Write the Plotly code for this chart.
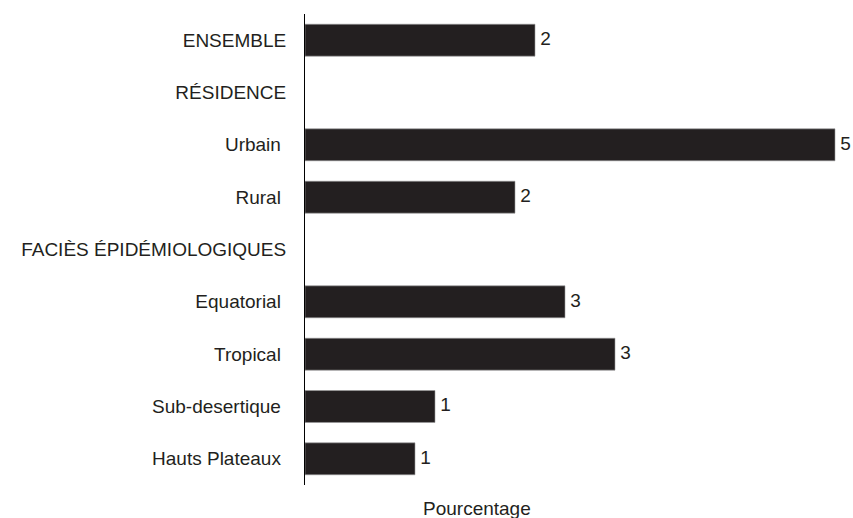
import plotly.graph_objects as go

categories = ["ENSEMBLE", "RÉSIDENCE", "Urbain", "Rural", "FACIÈS ÉPIDÉMIOLOGIQUES",
              "Equatorial", "Tropical", "Sub-desertique", "Hauts Plateaux"]
values = [2.3, None, 5.3, 2.1, None, 2.6, 3.1, 1.3, 1.1]
tick_labels = ["ENSEMBLE", "RÉSIDENCE", "Urbain\u00a0", "Rural\u00a0", "FACIÈS ÉPIDÉMIOLOGIQUES",
               "Equatorial\u00a0", "Tropical\u00a0", "Sub-desertique\u00a0", "Hauts Plateaux\u00a0"]

font_family = "Arial, 'Liberation Sans', sans-serif"

fig = go.Figure()
fig.add_trace(go.Bar(x=values, y=categories, orientation="h", width=0.61,
                     marker=dict(color="#231f20", line=dict(color="#9a9a9a", width=0.6)),
                     hoverinfo="skip"))
# value labels (rounded) as a text trace so they are never squeezed into the bar
fig.add_trace(go.Scatter(x=values, y=categories, mode="text",
                         text=["\u00a0%.0f" % v if v is not None else "" for v in values],
                         textposition="middle right", cliponaxis=False,
                         textfont=dict(size=19, color="#231f20", family=font_family),
                         hoverinfo="skip"))
fig.update_yaxes(autorange=False, range=[8.5, -0.5], tickvals=categories, ticktext=tick_labels,
                 showline=True, linecolor="black", linewidth=1, ticks="", showgrid=False,
                 zeroline=False, ticklabelstandoff=14,
                 tickfont=dict(size=19, color="#231f20", family=font_family))
fig.update_xaxes(range=[0, 5.4], visible=False, showgrid=False, zeroline=False)
fig.add_annotation(text="Pourcentage", xref="x", yref="paper", x=1.72, y=0, yshift=-23,
                   yanchor="middle", showarrow=False,
                   font=dict(size=19, color="#231f20", family=font_family))
fig.update_layout(width=853, height=518,
                  showlegend=False,
                  margin=dict(l=305, r=8, t=14, b=33),
                  plot_bgcolor="white",
                  paper_bgcolor="white")
# drop the default 8px body margin so the figure fills the window exactly
fig.write_html("out.html", config=dict(displayModeBar=False),
               post_script="document.body.style.margin='0';document.body.style.overflow='hidden';")
